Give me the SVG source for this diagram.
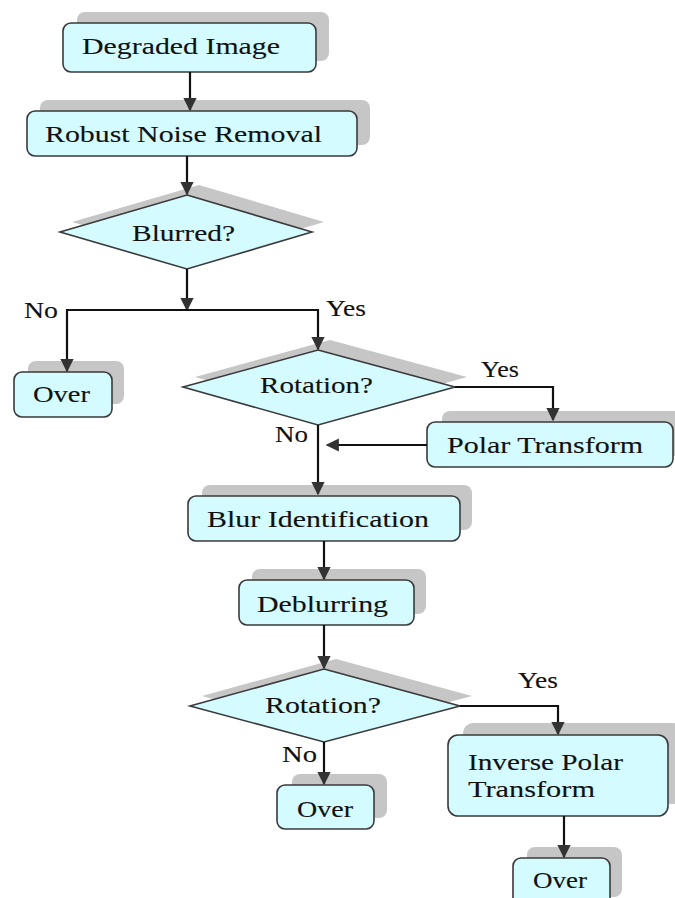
<svg xmlns="http://www.w3.org/2000/svg" width="675" height="898" viewBox="0 0 675 898">
<defs>
<style>
.sh{fill:#c6c6c6;}
.bx{fill:#d4fbff;stroke:#3a3a3a;stroke-width:1.6;}
.t{font-size:24px;fill:#111;stroke:#111;stroke-width:0.12;}
.c{fill:none;stroke:#111;stroke-width:2.2;}
</style>
<marker id="ah" viewBox="0 0 10 10" refX="9" refY="5" markerWidth="6" markerHeight="6" orient="auto" markerUnits="strokeWidth">
<path d="M0,0 L10,5 L0,10 z" fill="#333"/>
</marker>
</defs>
<rect width="675" height="898" fill="#ffffff"/>

<g id="degraded">
<rect class="sh" x="77" y="12" width="252" height="49" rx="8"/>
<rect class="bx" x="63" y="23" width="253" height="49" rx="8"/>
<text class="t" font-family="Liberation Serif, Times New Roman, serif" x="82" y="54" textLength="198" lengthAdjust="spacingAndGlyphs">Degraded Image</text>
</g>
<g id="robust">
<rect class="sh" x="40" y="100" width="330" height="45" rx="8"/>
<rect class="bx" x="27" y="111" width="330" height="45" rx="8"/>
<text class="t" font-family="Liberation Serif, Times New Roman, serif" x="45" y="142" textLength="277" lengthAdjust="spacingAndGlyphs">Robust Noise Removal</text>
</g>
<g id="blurred">
<polygon class="sh" points="199,185 324,222 199,259 72,222"/>
<polygon class="bx" points="187,195 312,232 187,269 60,232"/>
<text class="t" font-family="Liberation Serif, Times New Roman, serif" x="132" y="241" textLength="103" lengthAdjust="spacingAndGlyphs">Blurred?</text>
</g>
<g id="over1">
<rect class="sh" x="28" y="361" width="96" height="43" rx="8"/>
<rect class="bx" x="14" y="372" width="98" height="45" rx="8"/>
<text class="t" font-family="Liberation Serif, Times New Roman, serif" x="33" y="402" textLength="57" lengthAdjust="spacingAndGlyphs">Over</text>
</g>
<g id="rotation1">
<polygon class="sh" points="330,340 467,377 330,415 195,377"/>
<polygon class="bx" points="318,350 455,387 318,425 183,387"/>
<text class="t" font-family="Liberation Serif, Times New Roman, serif" x="260" y="393" textLength="113" lengthAdjust="spacingAndGlyphs">Rotation?</text>
</g>
<g id="polar">
<rect class="sh" x="442" y="411" width="240" height="45" rx="8"/>
<rect class="bx" x="427" y="422" width="246" height="45" rx="8"/>
<text class="t" font-family="Liberation Serif, Times New Roman, serif" x="447" y="453" textLength="196" lengthAdjust="spacingAndGlyphs">Polar Transform</text>
</g>
<g id="blurid">
<rect class="sh" x="202" y="485" width="270" height="45" rx="8"/>
<rect class="bx" x="188" y="496" width="272" height="45" rx="8"/>
<text class="t" font-family="Liberation Serif, Times New Roman, serif" x="207" y="527" textLength="222" lengthAdjust="spacingAndGlyphs">Blur Identification</text>
</g>
<g id="deblurring">
<rect class="sh" x="252" y="569" width="174" height="45" rx="8"/>
<rect class="bx" x="239" y="580" width="175" height="45" rx="8"/>
<text class="t" font-family="Liberation Serif, Times New Roman, serif" x="257" y="612" textLength="131" lengthAdjust="spacingAndGlyphs">Deblurring</text>
</g>
<g id="rotation2">
<polygon class="sh" points="336,659 472,696 336,732 202,696"/>
<polygon class="bx" points="324,669 460,706 324,742 190,706"/>
<text class="t" font-family="Liberation Serif, Times New Roman, serif" x="265" y="713" textLength="116" lengthAdjust="spacingAndGlyphs">Rotation?</text>
</g>
<g id="over2">
<rect class="sh" x="292" y="774" width="95" height="44" rx="8"/>
<rect class="bx" x="277" y="785" width="97" height="44" rx="8"/>
<text class="t" font-family="Liberation Serif, Times New Roman, serif" x="297" y="817" textLength="56" lengthAdjust="spacingAndGlyphs">Over</text>
</g>
<g id="inverse">
<rect class="sh" x="463" y="723" width="220" height="81" rx="10"/>
<rect class="bx" x="448" y="735" width="220" height="81" rx="10"/>
<text class="t" font-family="Liberation Serif, Times New Roman, serif" x="468" y="770" textLength="155" lengthAdjust="spacingAndGlyphs">Inverse Polar</text>
<text class="t" font-family="Liberation Serif, Times New Roman, serif" x="468" y="797" textLength="127" lengthAdjust="spacingAndGlyphs">Transform</text>
</g>
<g id="over3">
<rect class="sh" x="527" y="847" width="95" height="50" rx="8"/>
<rect class="bx" x="513" y="858" width="97" height="48" rx="8"/>
<text class="t" font-family="Liberation Serif, Times New Roman, serif" x="533" y="888" textLength="54" lengthAdjust="spacingAndGlyphs">Over</text>
</g>

<g id="connectors">
<path class="c" d="M190,72 V110" marker-end="url(#ah)"/>
<path class="c" d="M187,156 V194" marker-end="url(#ah)"/>
<path class="c" d="M187,269 V310" marker-end="url(#ah)"/>
<path class="c" d="M187,310 H67 V371" marker-end="url(#ah)"/>
<path class="c" d="M187,310 H318 V349" marker-end="url(#ah)"/>
<path class="c" d="M455,387 H553 V420" marker-end="url(#ah)"/>
<path class="c" d="M427,445 H327" marker-end="url(#ah)"/>
<path class="c" d="M318,425 V494" marker-end="url(#ah)"/>
<path class="c" d="M324,541 V579" marker-end="url(#ah)"/>
<path class="c" d="M324,625 V668" marker-end="url(#ah)"/>
<path class="c" d="M460,706 H558 V734" marker-end="url(#ah)"/>
<path class="c" d="M324,742 V784" marker-end="url(#ah)"/>
<path class="c" d="M564,816 V857" marker-end="url(#ah)"/>
</g>
<g id="labels">
<text class="t" font-family="Liberation Serif, Times New Roman, serif" x="24" y="318" textLength="34" lengthAdjust="spacingAndGlyphs">No</text>
<text class="t" font-family="Liberation Serif, Times New Roman, serif" x="326" y="316" textLength="40" lengthAdjust="spacingAndGlyphs">Yes</text>
<text class="t" font-family="Liberation Serif, Times New Roman, serif" x="481" y="377" textLength="38" lengthAdjust="spacingAndGlyphs">Yes</text>
<text class="t" font-family="Liberation Serif, Times New Roman, serif" x="275" y="442" textLength="33" lengthAdjust="spacingAndGlyphs">No</text>
<text class="t" font-family="Liberation Serif, Times New Roman, serif" x="518" y="688" textLength="40" lengthAdjust="spacingAndGlyphs">Yes</text>
<text class="t" font-family="Liberation Serif, Times New Roman, serif" x="282" y="762" textLength="35" lengthAdjust="spacingAndGlyphs">No</text>
</g>
</svg>
